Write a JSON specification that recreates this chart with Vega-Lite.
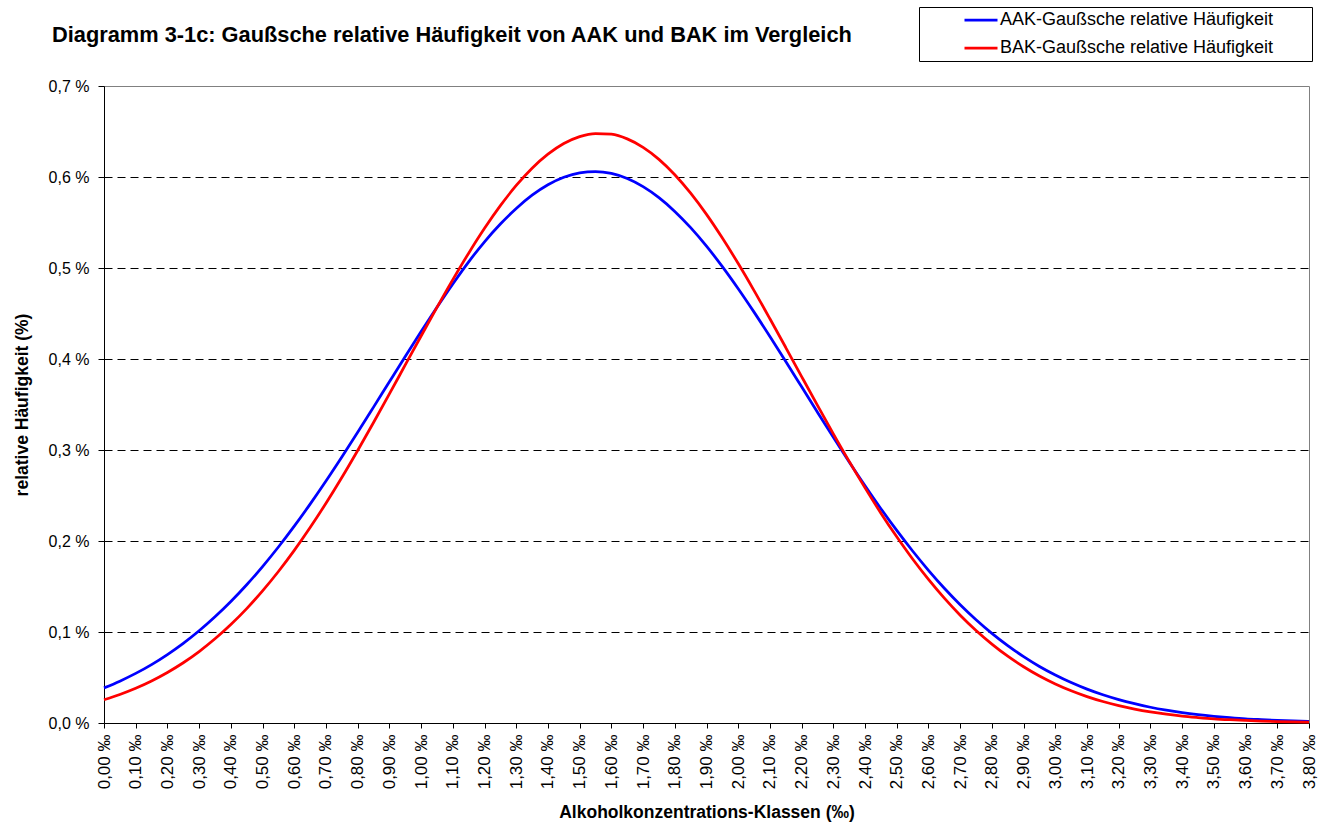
{
  "$schema": "https://vega.github.io/schema/vega-lite/v6.json",
  "width": 1205,
  "height": 637,
  "autosize": {"type": "none"},
  "padding": {"left": 104, "top": 86, "right": 17, "bottom": 106},
  "background": "white",
  "config": {
    "font": "Liberation Sans",
    "view": {"stroke": "#808080", "strokeWidth": 1}
  },
  "title": {
    "text": "Diagramm 3-1c: Gaußsche relative Häufigkeit von AAK und BAK im Vergleich",
    "anchor": "start",
    "frame": "group",
    "dx": -52,
    "offset": -57,
    "baseline": "alphabetic",
    "fontSize": 21.8,
    "fontWeight": "bold",
    "color": "black",
    "font": "Liberation Sans"
  },
  "data": {
    "values": [
      {"k": 0.00, "AAK": 0.0386, "BAK": 0.0256},
      {"k": 0.05, "AAK": 0.0460, "BAK": 0.0314},
      {"k": 0.10, "AAK": 0.0545, "BAK": 0.0382},
      {"k": 0.15, "AAK": 0.0642, "BAK": 0.0462},
      {"k": 0.20, "AAK": 0.0752, "BAK": 0.0555},
      {"k": 0.25, "AAK": 0.0875, "BAK": 0.0662},
      {"k": 0.30, "AAK": 0.1013, "BAK": 0.0785},
      {"k": 0.35, "AAK": 0.1167, "BAK": 0.0925},
      {"k": 0.40, "AAK": 0.1335, "BAK": 0.1082},
      {"k": 0.45, "AAK": 0.1519, "BAK": 0.1257},
      {"k": 0.50, "AAK": 0.1719, "BAK": 0.1452},
      {"k": 0.55, "AAK": 0.1934, "BAK": 0.1665},
      {"k": 0.60, "AAK": 0.2163, "BAK": 0.1897},
      {"k": 0.65, "AAK": 0.2405, "BAK": 0.2148},
      {"k": 0.70, "AAK": 0.2659, "BAK": 0.2415},
      {"k": 0.75, "AAK": 0.2923, "BAK": 0.2698},
      {"k": 0.80, "AAK": 0.3194, "BAK": 0.2995},
      {"k": 0.85, "AAK": 0.3471, "BAK": 0.3302},
      {"k": 0.90, "AAK": 0.3750, "BAK": 0.3616},
      {"k": 0.95, "AAK": 0.4028, "BAK": 0.3935},
      {"k": 1.00, "AAK": 0.4302, "BAK": 0.4253},
      {"k": 1.05, "AAK": 0.4568, "BAK": 0.4567},
      {"k": 1.10, "AAK": 0.4825, "BAK": 0.4872},
      {"k": 1.15, "AAK": 0.5068, "BAK": 0.5163},
      {"k": 1.20, "AAK": 0.5288, "BAK": 0.5436},
      {"k": 1.25, "AAK": 0.5483, "BAK": 0.5685},
      {"k": 1.30, "AAK": 0.5654, "BAK": 0.5907},
      {"k": 1.35, "AAK": 0.5800, "BAK": 0.6097},
      {"k": 1.40, "AAK": 0.5915, "BAK": 0.6251},
      {"k": 1.45, "AAK": 0.5997, "BAK": 0.6368},
      {"k": 1.50, "AAK": 0.6046, "BAK": 0.6444},
      {"k": 1.55, "AAK": 0.6060, "BAK": 0.6478},
      {"k": 1.60, "AAK": 0.6039, "BAK": 0.6470},
      {"k": 1.65, "AAK": 0.5983, "BAK": 0.6419},
      {"k": 1.70, "AAK": 0.5894, "BAK": 0.6326},
      {"k": 1.75, "AAK": 0.5773, "BAK": 0.6194},
      {"k": 1.80, "AAK": 0.5622, "BAK": 0.6025},
      {"k": 1.85, "AAK": 0.5443, "BAK": 0.5822},
      {"k": 1.90, "AAK": 0.5240, "BAK": 0.5589},
      {"k": 1.95, "AAK": 0.5015, "BAK": 0.5329},
      {"k": 2.00, "AAK": 0.4772, "BAK": 0.5049},
      {"k": 2.05, "AAK": 0.4515, "BAK": 0.4752},
      {"k": 2.10, "AAK": 0.4247, "BAK": 0.4442},
      {"k": 2.15, "AAK": 0.3973, "BAK": 0.4126},
      {"k": 2.20, "AAK": 0.3694, "BAK": 0.3807},
      {"k": 2.25, "AAK": 0.3415, "BAK": 0.3490},
      {"k": 2.30, "AAK": 0.3139, "BAK": 0.3178},
      {"k": 2.35, "AAK": 0.2869, "BAK": 0.2875},
      {"k": 2.40, "AAK": 0.2607, "BAK": 0.2584},
      {"k": 2.45, "AAK": 0.2355, "BAK": 0.2306},
      {"k": 2.50, "AAK": 0.2116, "BAK": 0.2046},
      {"k": 2.55, "AAK": 0.1890, "BAK": 0.1802},
      {"k": 2.60, "AAK": 0.1678, "BAK": 0.1578},
      {"k": 2.65, "AAK": 0.1481, "BAK": 0.1372},
      {"k": 2.70, "AAK": 0.1300, "BAK": 0.1185},
      {"k": 2.75, "AAK": 0.1135, "BAK": 0.1017},
      {"k": 2.80, "AAK": 0.0985, "BAK": 0.0867},
      {"k": 2.85, "AAK": 0.0850, "BAK": 0.0734},
      {"k": 2.90, "AAK": 0.0729, "BAK": 0.0618},
      {"k": 2.95, "AAK": 0.0621, "BAK": 0.0516},
      {"k": 3.00, "AAK": 0.0527, "BAK": 0.0429},
      {"k": 3.05, "AAK": 0.0444, "BAK": 0.0354},
      {"k": 3.10, "AAK": 0.0372, "BAK": 0.0290},
      {"k": 3.15, "AAK": 0.0310, "BAK": 0.0236},
      {"k": 3.20, "AAK": 0.0257, "BAK": 0.0191},
      {"k": 3.25, "AAK": 0.0212, "BAK": 0.0153},
      {"k": 3.30, "AAK": 0.0173, "BAK": 0.0122},
      {"k": 3.35, "AAK": 0.0141, "BAK": 0.0097},
      {"k": 3.40, "AAK": 0.0114, "BAK": 0.0076},
      {"k": 3.45, "AAK": 0.0092, "BAK": 0.0060},
      {"k": 3.50, "AAK": 0.0074, "BAK": 0.0046},
      {"k": 3.55, "AAK": 0.0059, "BAK": 0.0036},
      {"k": 3.60, "AAK": 0.0046, "BAK": 0.0028},
      {"k": 3.65, "AAK": 0.0037, "BAK": 0.0021},
      {"k": 3.70, "AAK": 0.0029, "BAK": 0.0016},
      {"k": 3.75, "AAK": 0.0022, "BAK": 0.0012},
      {"k": 3.80, "AAK": 0.0017, "BAK": 0.0009}
    ]
  },
  "transform": [{"fold": ["AAK", "BAK"], "as": ["series", "v"]}],
  "mark": {"type": "line", "interpolate": "monotone", "strokeWidth": 2.75},
  "encoding": {
    "x": {
      "field": "k",
      "type": "quantitative",
      "scale": {"domain": [0, 3.8], "nice": false, "zero": false},
      "axis": {
        "values": [0, 0.1, 0.2, 0.3, 0.4, 0.5, 0.6, 0.7, 0.8, 0.9, 1, 1.1, 1.2, 1.3, 1.4, 1.5, 1.6, 1.7, 1.8, 1.9, 2, 2.1, 2.2, 2.3, 2.4, 2.5, 2.6, 2.7, 2.8, 2.9, 3, 3.1, 3.2, 3.3, 3.4, 3.5, 3.6, 3.7, 3.8],
        "labelExpr": "replace(format(datum.value, '.2f'), '.', ',') + ' ‰'",
        "labelAngle": -90,
        "labelFontSize": 17,
        "labelColor": "black",
        "labelPadding": 6,
        "labelOverlap": false,
        "labelFlush": false,
        "labelBound": false,
        "tickSize": 5,
        "tickColor": "black",
        "domainColor": "black",
        "grid": false,
        "title": "Alkoholkonzentrations-Klassen (‰)",
        "titleFontSize": 17.5,
        "titleFontWeight": "bold",
        "titleColor": "black",
        "titlePadding": 15
      }
    },
    "y": {
      "field": "v",
      "type": "quantitative",
      "scale": {"domain": [0, 0.7], "nice": false},
      "axis": {
        "values": [0, 0.1, 0.2, 0.3, 0.4, 0.5, 0.6, 0.7],
        "labelExpr": "replace(format(datum.value, '.1f'), '.', ',') + ' %'",
        "labelFontSize": 16,
        "labelColor": "black",
        "labelPadding": 9,
        "labelFlush": false,
        "tickSize": 6,
        "tickColor": "black",
        "domainColor": "black",
        "grid": true,
        "gridColor": "black",
        "gridDash": [8, 5],
        "gridOpacity": {"condition": {"test": "datum.value < 0.05 || datum.value > 0.65", "value": 0}, "value": 1},
        "title": "relative Häufigkeit (%)",
        "titleFontSize": 17.5,
        "titleFontWeight": "bold",
        "titleColor": "black",
        "titlePadding": 17
      }
    },
    "color": {
      "field": "series",
      "type": "nominal",
      "scale": {"domain": ["AAK", "BAK"], "range": ["#0000FF", "#FF0000"]},
      "legend": {
        "orient": "none",
        "legendX": 815,
        "legendY": -79,
        "title": null,
        "strokeColor": "black",
        "fillColor": "white",
        "padding": 3,
        "clipHeight": 20,
        "symbolType": "stroke",
        "symbolSize": 1089,
        "symbolStrokeWidth": 2.75,
        "symbolOffset": 41,
        "labelFontSize": 18,
        "labelColor": "black",
        "labelFont": "Liberation Sans",
        "labelOffset": 1,
        "labelLimit": 600,
        "rowPadding": 8,
        "labelExpr": "datum.label + '-Gaußsche relative Häufigkeit\u00a0\u00a0\u00a0\u00a0\u00a0\u00a0\u00a0\u200b'"
      }
    }
  }
}
